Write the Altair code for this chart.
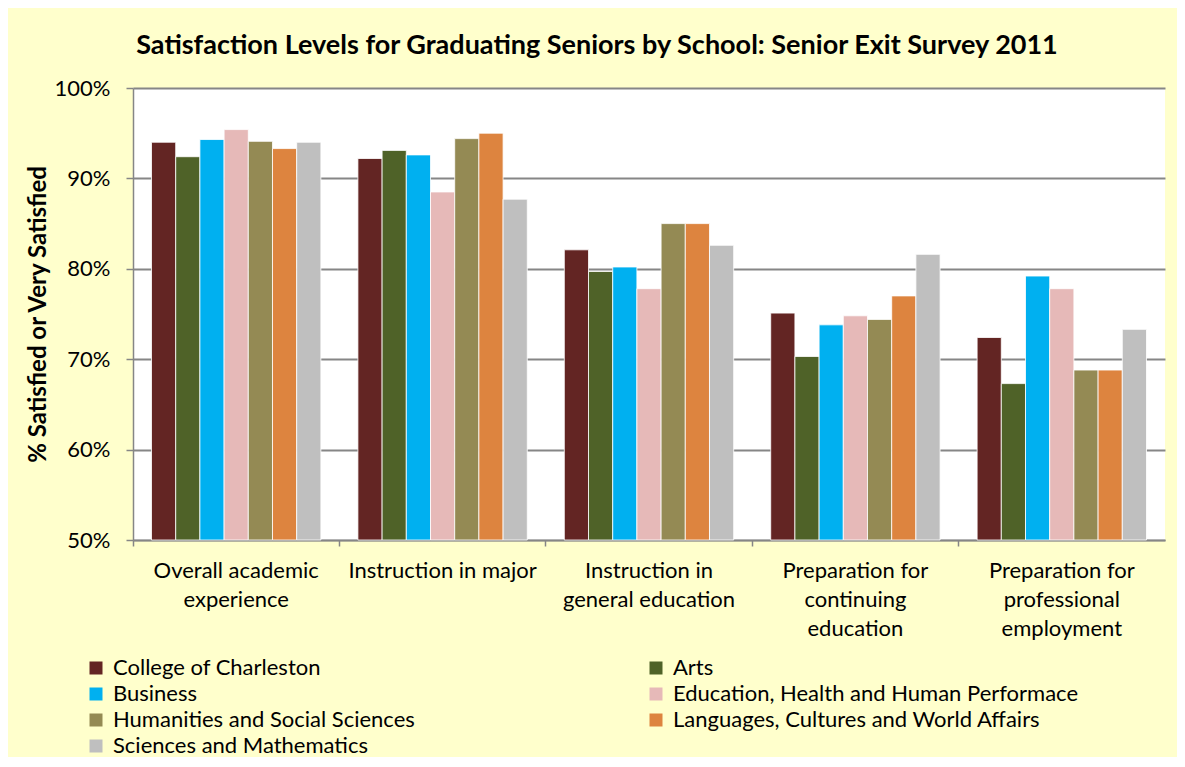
import altair as alt
import pandas as pd

categories = [
    "Overall academic|experience",
    "Instruction in major",
    "Instruction in|general education",
    "Preparation for|continuing|education",
    "Preparation for|professional|employment",
]
schools = [
    "College of Charleston",
    "Arts",
    "Business",
    "Education, Health and Human Performace",
    "Humanities and Social Sciences",
    "Languages, Cultures and World Affairs",
    "Sciences and Mathematics",
]
colors = ["#632523", "#4F6228", "#00B0F0", "#E6B9B8", "#948A54", "#DD843F", "#BFBFBF"]

college_of_charleston = [94.0, 92.2, 82.1, 75.1, 72.4]
arts = [92.4, 93.1, 79.7, 70.3, 67.3]
business = [94.3, 92.6, 80.2, 73.8, 79.2]
education = [95.4, 88.5, 77.8, 74.8, 77.8]
humanities = [94.1, 94.4, 85.0, 74.4, 68.8]
languages = [93.3, 95.0, 85.0, 77.0, 68.8]
sciences = [94.0, 87.7, 82.6, 81.6, 73.3]

series = [college_of_charleston, arts, business, education, humanities, languages, sciences]
y_ticks = [50, 60, 70, 80, 90, 100]

rows = []
for s, vals in zip(schools, series):
    for c, v in zip(categories, vals):
        rows.append({"category": c, "school": s, "value": v})
df = pd.DataFrame(rows)

# legend is filled column by column; order entries so it reads row by row like the reference
legend_order = [schools[i] for i in (0, 2, 4, 6, 1, 3, 5)]
legend_colors = [colors[i] for i in (0, 2, 4, 6, 1, 3, 5)]

FONT = "Lato"

bars = alt.Chart(df).mark_bar(stroke="white", strokeWidth=1, strokeOpacity=0.8).encode(
    x=alt.X(
        "category:N",
        sort=categories,
        scale=alt.Scale(paddingInner=0, paddingOuter=0),
        axis=alt.Axis(
            title=None,
            labelAngle=0,
            labelExpr="split(datum.label, '|')",
            labelFontSize=22,
            labelColor="black",
            labelFont=FONT,
            labelLineHeight=29,
            labelPadding=14,
            labelBaseline="top",
            bandPosition=0,
            tickSize=6,
            tickColor="#868686",
            tickWidth=1.5,
            domainColor="#868686",
            domainWidth=1.5,
            labelLimit=300,
        ),
    ),
    xOffset=alt.XOffset(
        "school:N",
        sort=schools,
        scale=alt.Scale(paddingInner=0, paddingOuter=0.765),
    ),
    y=alt.Y(
        "value:Q",
        scale=alt.Scale(domain=[50, 100], zero=False, nice=False),
        axis=alt.Axis(
            title="% Satisfied or Very Satisfied",
            titleFontSize=24,
            titleFont=FONT,
            titleFontWeight="bold",
            titleColor="black",
            titlePadding=4,
            values=y_ticks,
            labelExpr="datum.value + '%'",
            labelFontSize=22,
            labelFont=FONT,
            labelColor="black",
            labelPadding=16,
            tickSize=7,
            tickColor="#868686",
            tickWidth=1.5,
            domainColor="#868686",
            domainWidth=1.5,
            grid=True,
            gridColor="#868686",
            gridWidth=2,
        ),
    ),
    y2=alt.datum(50),
    color=alt.Color(
        "school:N",
        scale=alt.Scale(domain=legend_order, range=legend_colors),
        legend=alt.Legend(
            title=None,
            orient="none",
            legendX=-48,
            legendY=569,
            columns=2,
            columnPadding=126,
            rowPadding=4,
            symbolType="square",
            symbolSize=169,
            symbolStrokeWidth=0,
            labelFontSize=22,
            labelFont=FONT,
            labelColor="black",
            labelLimit=600,
            labelOffset=6,
            gridAlign="all",
        ),
    ),
)

chart = bars.properties(
    width=1032,
    height=452,
    title=alt.Title(
        "Satisfaction Levels for Graduating Seniors by School: Senior Exit Survey 2011",
        fontSize=27,
        font=FONT,
        fontWeight="bold",
        color="black",
        anchor="middle",
        offset=17,
        dx=-52,
    ),
    autosize=alt.AutoSizeParams(type="none"),
    padding={"left": 125, "top": 80, "right": 12, "bottom": 217},
    background="#FFFFCC",
).configure_view(fill="white", stroke=None)

chart.save("out.html", embed_options={"renderer": "svg", "actions": False})
